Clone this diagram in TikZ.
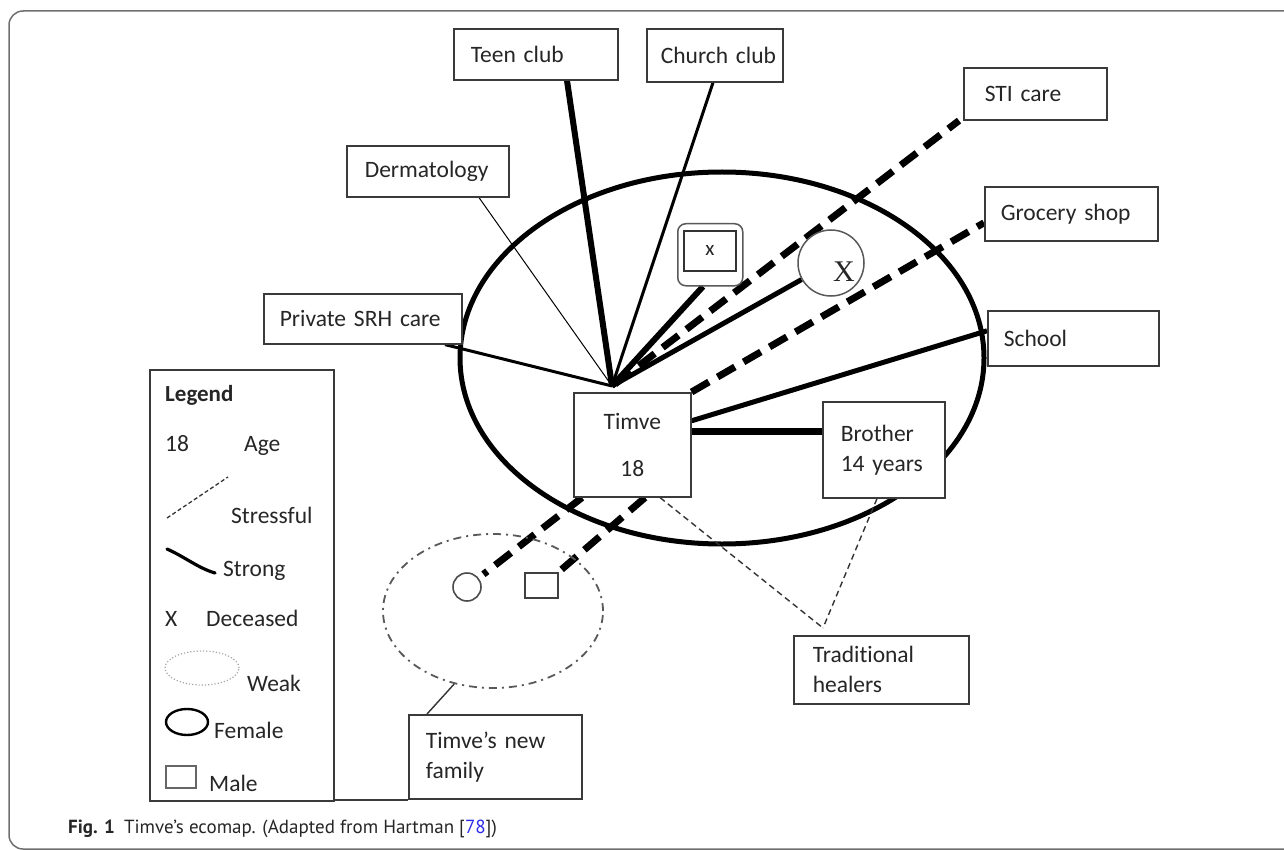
\documentclass[tikz,border=0pt]{standalone}
\usepackage{fontspec}
\setmainfont{Carlito}[Ligatures=NoCommon]
\newfontfamily\capfont{PT Sans}
\newfontfamily\serifx{Liberation Serif}
\usetikzlibrary{shapes.geometric,backgrounds}
\definecolor{txt}{HTML}{262626}
\definecolor{bord}{HTML}{3A3A3A}
\definecolor{framecol}{HTML}{707070}
\definecolor{linkblue}{HTML}{2B2BE8}
\begin{document}
\begin{tikzpicture}[x=1pt,y=-1pt,
  box/.style={draw=bord, line width=1.6pt, fill=white, text=txt, anchor=north west,
    align=left, inner xsep=17pt, inner ysep=0pt, font=\fontsize{23.5}{30}\selectfont},
  leg/.style={anchor=base west, text=txt, inner sep=0pt, font=\fontsize{23.5}{30}\selectfont},
  tie/.style={draw=black, line width=#1, line cap=butt},
  stress/.style={draw=black, line width=7pt, dash pattern=on 20pt off 10pt},
  thinstress/.style={draw=black!80, line width=1.4pt, dash pattern=on 6pt off 4pt}]
\useasboundingbox (0,0) rectangle (1284,850);

% ---- boxes ----
\node[box, minimum width=164pt, minimum height=51pt, text width=130pt] (teen) at (453,28) {Teen~club};
\node[box, minimum width=136pt, minimum height=53pt, text width=108pt, inner xsep=14pt] (church) at (646,28) {Church~club};
\node[box, minimum width=143pt, minimum height=52pt, text width=101pt, inner xsep=21pt] (sti) at (963,67) {STI~care};
\node[box, minimum width=162pt, minimum height=51pt, text width=126pt, inner xsep=18pt] (derm) at (346,145) {Dermatology};
\node[box, minimum width=173pt, minimum height=54pt, text width=141pt, inner xsep=16pt] (grocery) at (984,186) {Grocery~shop};
\node[box, minimum width=198pt, minimum height=50pt, text width=166pt, inner xsep=16pt] (srh) at (263,293) {Private~SRH~care};
\node[box, minimum width=171pt, minimum height=55pt, text width=139pt, inner xsep=16pt] (school) at (987,310) {School};
\node[box, align=center, minimum width=117pt, minimum height=104pt, text width=83pt] (timve) at (573,392) {Timve\\[17pt]18};
\node[box, minimum width=122pt, minimum height=96pt, text width=86pt, inner xsep=18pt] (brother) at (822,401) {Brother\\14~years};
\node[box, minimum width=175pt, minimum height=68pt, text width=137pt, inner xsep=19pt] (trad) at (793,635) {Traditional\\healers};
\node[box, minimum width=173pt, minimum height=84pt, text width=139pt] (family) at (408,714) {Timve’s~new\\family};

% ---- family members ----
\node[draw=black!70, line width=1.6pt, circle, minimum size=28pt, inner sep=0pt] (fem) at (467,587) {};
\node[draw=black!75, line width=1.6pt, fill=white, rectangle, anchor=north west, minimum width=33pt, minimum height=25pt, inner sep=0pt] (mal) at (524,572) {};
\node[draw=black!65, dash pattern=on 8pt off 5pt on 2pt off 5pt, line width=1.8pt, ellipse, minimum width=220pt, minimum height=154pt, inner sep=0pt] (fam) at (493,611) {};

% ---- deceased ----
\node[draw=black!65, line width=1.5pt, rounded corners=8pt, fill=white, anchor=north west, minimum width=65pt, minimum height=62pt, inner sep=0pt] (dm) at (677,223) {};
\node[draw=black!80, line width=1.8pt, anchor=north west, minimum width=52pt, minimum height=40pt, inner sep=0pt, text=txt, font=\fontsize{21}{24}\selectfont] (dmi) at (683,230) {x};
\node[draw=black!65, line width=1.5pt, circle, minimum size=66pt, inner sep=0pt, fill=white] (cx) at (831,263) {};
\node[inner sep=0pt, text=black!85, font=\serifx\fontsize{30}{32}\selectfont] (cxmark) at (844,272) {X};

% ---- legend ----
\node[draw=bord, line width=1.6pt, anchor=north west, minimum width=184pt, minimum height=431pt, inner sep=0pt] (legend) at (149,369) {};
\node[leg, font=\bfseries\fontsize{23}{30}\selectfont] (lgtitle) at (165,401) {Legend};
\node[leg] (l18) at (165,451) {18};
\node[leg] (lage) at (244,451) {Age};
\coordinate (ls1) at (167,518);
\coordinate (ls2) at (228,477);
\draw[draw=black!80, line width=1.3pt, dash pattern=on 4pt off 2.5pt] (ls1) -- (ls2);
\node[leg] (lstress) at (231,523) {Stressful};
\coordinate (lg1) at (167,549);
\coordinate (lg2) at (215,573);
\draw[line width=3.2pt, line cap=round] (lg1) .. controls (185,557) and (198,568) .. (lg2);
\node[leg] (lstrong) at (223,576) {Strong};
\node[leg] (lx) at (165,626) {X};
\node[leg] (ldec) at (206,626) {Deceased};
\node[draw=black!35, dotted, line width=1.2pt, ellipse, minimum width=74pt, minimum height=34pt, inner sep=0pt] (lweak) at (202,668) {};
\node[leg] (lweakt) at (247,691) {Weak};
\node[draw=black, line width=2.4pt, ellipse, minimum width=42pt, minimum height=26pt, inner sep=0pt] (lfem) at (187,722) {};
\node[leg] (lfemt) at (214,738) {Female};
\node[draw=black!60, line width=1.5pt, anchor=north west, minimum width=30pt, minimum height=22pt, inner sep=0pt] (lmal) at (165,765) {};
\node[leg] (lmalt) at (209,791) {Male};
\coordinate (bl1) at (333,800);
\coordinate (bl2) at (408,800);
\draw[draw=bord, line width=1.6pt] (bl1) -- (bl2);

% ---- caption ----
\node[anchor=base west, inner sep=0pt, text=txt, font=\capfont\fontsize{19}{21}\selectfont] (cap) at (68,833)
  {\textbf{Fig. 1}\hspace{9pt}Timve’s ecomap. (Adapted from Hartman [\textcolor{linkblue}{78}])};

\coordinate (hub) at (612,386);

\begin{pgfonlayer}{background}
  \begin{scope}
    \clip (0,0) rectangle (1284,850);
    \draw[draw=framecol, line width=1.5pt, rounded corners=14pt] (1300,11) -- (9,11) -- (9,849) -- (1300,849);
  \end{scope}
  \node[draw=black, line width=5pt, ellipse, minimum width=524pt, minimum height=372pt, inner sep=0pt] (eco) at (722,358) {};
  % hub connectors
  \draw[tie=6pt] ([xshift=114pt]teen.south west) -- (hub);
  \draw[tie=3pt] ([xshift=67pt]church.south west) -- (hub);
  \draw[tie=1pt] ([xshift=133pt]derm.south west) -- (hub);
  \draw[tie=3pt] ([xshift=182pt]srh.south west) -- (hub);
  \draw[tie=6pt] ([xshift=26pt]dm.south west) -- (hub);
  \draw[tie=5pt] (cx) -- (hub);
  \draw[stress] ([xshift=3pt,yshift=2pt]hub) -- ([xshift=-4pt]sti.south west);
  \draw[stress] (timve.north east) -- ([yshift=-9pt]grocery.west);
  \draw[tie=5pt] ([yshift=24pt]timve.east) -- ([yshift=7.5pt]school.west);
  \draw[tie=7pt] ([yshift=13pt]timve.east) -- ([yshift=18pt]brother.west);
  % traditional healers
  \coordinate (tradtop) at ([xshift=30pt,yshift=7pt]trad.north west);
  \draw[thinstress] ([xshift=87pt]timve.south west) -- (tradtop);
  \draw[thinstress] ([xshift=55pt]brother.south west) -- (tradtop);
  % family
  \draw[stress, shorten >=6pt] ([xshift=9pt]timve.south west) -- (fem);
  \draw[stress] ([xshift=72pt]timve.south west) -- (mal.north east);
  \draw[draw=black!80, line width=1.4pt] (fam.242) -- ([xshift=19pt]family.north west);
\end{pgfonlayer}
\end{tikzpicture}
\end{document}
